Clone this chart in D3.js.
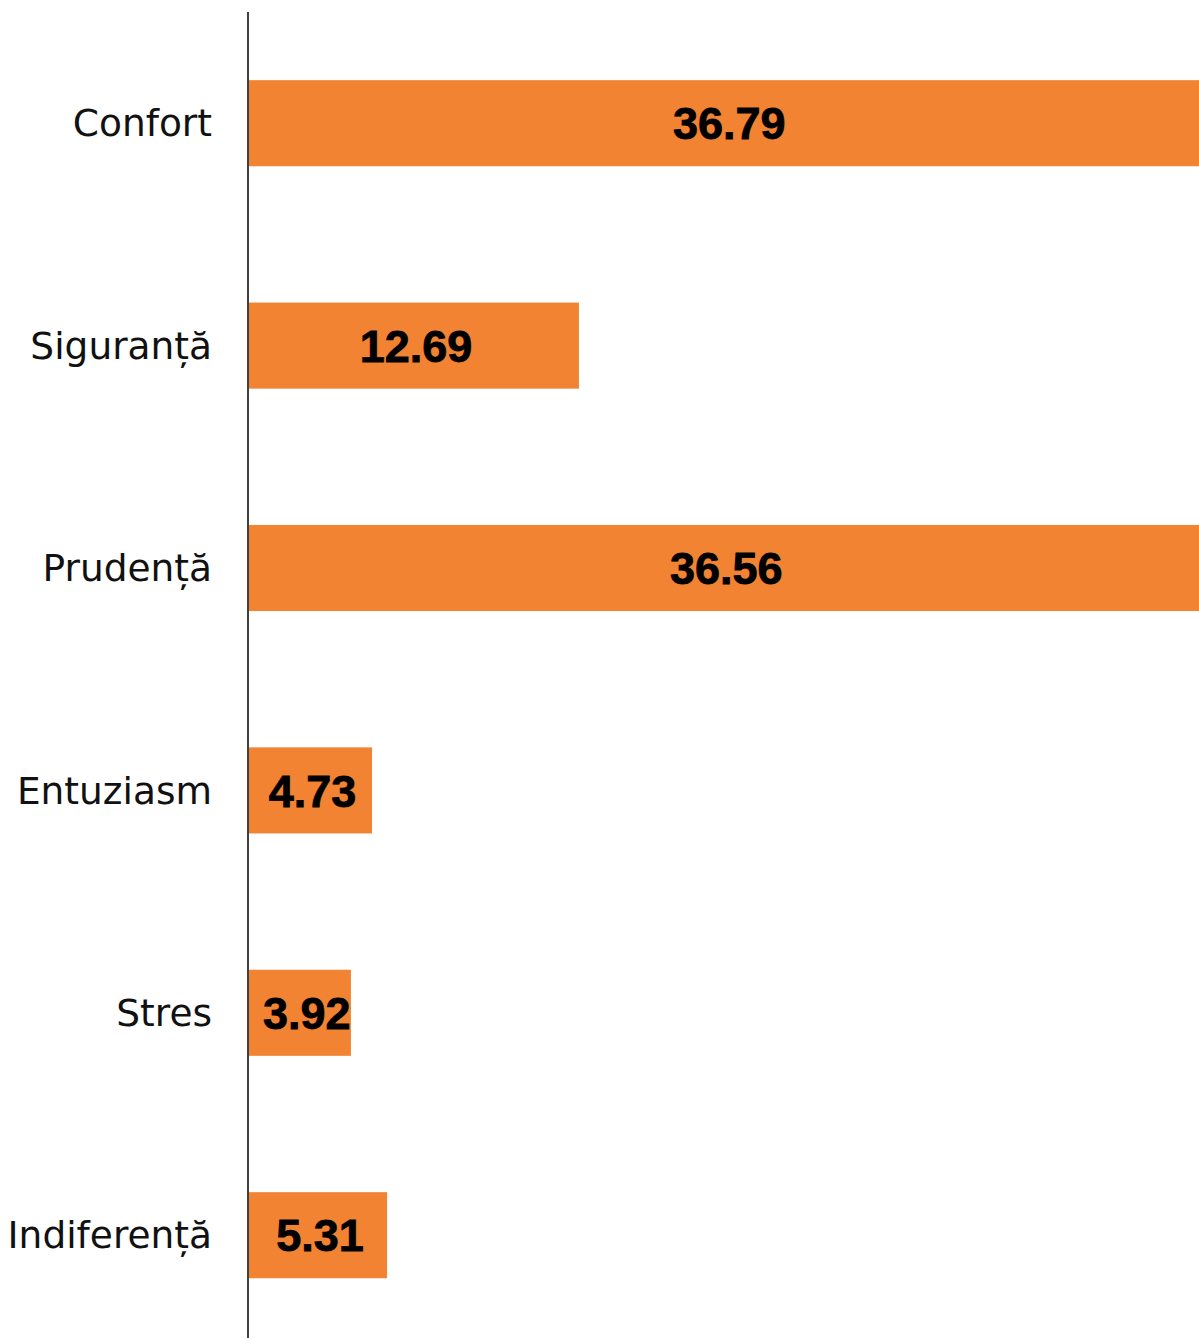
<!DOCTYPE html>
<html lang="ro">
<head>
<meta charset="utf-8">
<script src="https://cdn.jsdelivr.net/npm/d3@7"></script>
<style>
  html, body { margin: 0; padding: 0; background: #fff; overflow: hidden; }
  svg { display: block; }
</style>
</head>
<body>
<svg id="chart" width="1199" height="1338"></svg>
<script>
// Emotion categories and their shares (%)
const categories = ["Confort", "Siguranță", "Prudență", "Entuziasm", "Stres", "Indiferență"];
const values = [36.79, 12.69, 36.56, 4.73, 3.92, 5.31];

const width = 1199, height = 1338;
const x0 = 249;            // left edge of the bars (axis position)
const svg = d3.select("#chart");

const x = d3.scaleLinear()
  .domain([0, 40])
  .range([x0, x0 + 40 * 26.0]);

const y = d3.scaleBand()
  .domain(categories)
  .range([12, 1346.4])
  .paddingInner(0.613)
  .paddingOuter(0.3065);

const rows = categories.map((c, i) => ({ cat: c, val: values[i] }));

// bars
svg.append("g")
  .selectAll("rect")
  .data(rows)
  .join("rect")
  .attr("x", x(0))
  .attr("y", d => y(d.cat))
  .attr("width", d => x(d.val) - x(0))
  .attr("height", y.bandwidth())
  .attr("fill", "#F28332");

// vertical axis line
svg.append("line")
  .attr("x1", 248).attr("x2", 248)
  .attr("y1", 12).attr("y2", height)
  .attr("stroke", "#000")
  .attr("stroke-width", 1.5);

// category labels
svg.append("g")
  .selectAll("text")
  .data(rows)
  .join("text")
  .attr("x", 212)
  .attr("y", d => y(d.cat) + y.bandwidth() / 2)
  .attr("dy", "0.35em")
  .attr("text-anchor", "end")
  .attr("font-family", "'DejaVu Sans', sans-serif")
  .attr("font-size", 37.5)
  .attr("fill", "#111")
  .text(d => d.cat);

// value labels, centred on the bar but kept clear of the axis
const vals = svg.append("g")
  .selectAll("text")
  .data(rows)
  .join("text")
  .attr("y", d => y(d.cat) + y.bandwidth() / 2)
  .attr("dy", "0.36em")
  .attr("text-anchor", "middle")
  .attr("font-family", "'Liberation Sans', Arial, sans-serif")
  .attr("font-weight", "bold")
  .attr("font-size", 45)
  .attr("fill", "#000")
  .attr("stroke", "#000")
  .attr("stroke-width", 0.8)
  .text(d => d.val.toFixed(2));

vals.attr("x", function(d) {
  const w = this.getComputedTextLength();
  const mid = (x(0) + x(d.val)) / 2 + 2;
  return Math.max(mid, x(0) + 14 + w / 2);
});
</script>
</body>
</html>
